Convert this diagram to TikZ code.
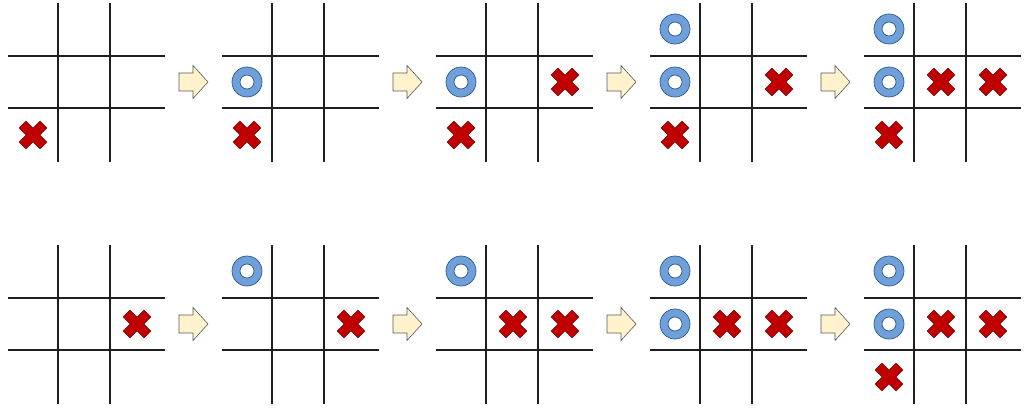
\documentclass[tikz,border=0pt]{standalone}
\definecolor{xred}{HTML}{C00000}
\definecolor{xedge}{HTML}{7A0000}
\definecolor{oblue}{HTML}{6FA0DA}
\definecolor{oedge}{HTML}{2F5A8C}
\definecolor{arrfill}{HTML}{FFF2CC}
\definecolor{arredge}{HTML}{595959}
\tikzset{
  gridline/.style={line width=1.4pt, draw=black!88},
  xmark/.style={fill=xred, draw=xedge, line width=0.5pt},
  omark/.style={fill=oblue, draw=oedge, line width=0.7pt, even odd rule},
  nextarrow/.style={fill=arrfill, draw=arredge, line width=0.6pt, line join=miter}
}
% #1 board index, #2 board row
\newcommand\tttboard[2]{%
  \begin{scope}[shift={({58+214*#1},{56+242*#2})}]
    \draw[gridline] (0,-53) -- (0,106);
    \draw[gridline] (52,-53) -- (52,106);
    \draw[gridline] (-50,0) -- (107,0);
    \draw[gridline] (-50,52) -- (107,52);
  \end{scope}}
% #1 board index, #2 board row, #3 column 0-2, #4 row 0-2
\newcommand\tttX[4]{%
  \begin{scope}[shift={({58+214*#1-25+52*#3},{56+242*#2-27+53*#4})}, rotate=45]
    \draw[xmark] (4.8,4.8) -- (14.8,4.8) -- (14.8,-4.8) -- (4.8,-4.8) -- (4.8,-14.8)
      -- (-4.8,-14.8) -- (-4.8,-4.8) -- (-14.8,-4.8) -- (-14.8,4.8) -- (-4.8,4.8)
      -- (-4.8,14.8) -- (4.8,14.8) -- cycle;
  \end{scope}}
\newcommand\tttO[4]{%
  \draw[omark] ({58+214*#1-25+52*#3},{56+242*#2-27+53*#4}) circle[radius=15pt] circle[radius=7pt];}
\newcommand\tttArrow[2]{%
  \begin{scope}[shift={({58+214*#1+121},{56+242*#2+26})}]
    \draw[nextarrow] (0,-9) -- (14,-9) -- (14,-16.5) -- (29,0) -- (14,16.5) -- (14,9) -- (0,9) -- cycle;
  \end{scope}}
\begin{document}
\begin{tikzpicture}[x=1pt,y=-1pt]
  \useasboundingbox (0,0) rectangle (1024,409);
  \foreach \b in {0,...,4} { \tttboard{\b}{0} \tttboard{\b}{1} }
  \foreach \b in {0,...,3} { \tttArrow{\b}{0} \tttArrow{\b}{1} }
  % row 1
  \tttX{0}{0}{0}{2}
  \tttO{1}{0}{0}{1} \tttX{1}{0}{0}{2}
  \tttO{2}{0}{0}{1} \tttX{2}{0}{2}{1} \tttX{2}{0}{0}{2}
  \tttO{3}{0}{0}{0} \tttO{3}{0}{0}{1} \tttX{3}{0}{2}{1} \tttX{3}{0}{0}{2}
  \tttO{4}{0}{0}{0} \tttO{4}{0}{0}{1} \tttX{4}{0}{1}{1} \tttX{4}{0}{2}{1} \tttX{4}{0}{0}{2}
  % row 2
  \tttX{0}{1}{2}{1}
  \tttO{1}{1}{0}{0} \tttX{1}{1}{2}{1}
  \tttO{2}{1}{0}{0} \tttX{2}{1}{1}{1} \tttX{2}{1}{2}{1}
  \tttO{3}{1}{0}{0} \tttO{3}{1}{0}{1} \tttX{3}{1}{1}{1} \tttX{3}{1}{2}{1}
  \tttO{4}{1}{0}{0} \tttO{4}{1}{0}{1} \tttX{4}{1}{1}{1} \tttX{4}{1}{2}{1} \tttX{4}{1}{0}{2}
\end{tikzpicture}
\end{document}
